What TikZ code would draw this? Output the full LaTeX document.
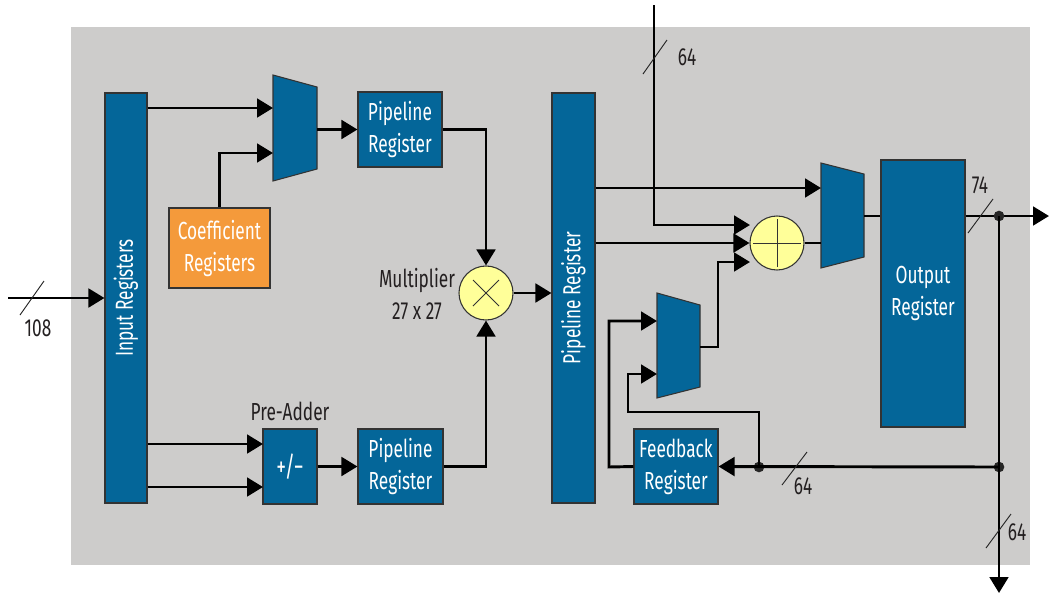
\documentclass[tikz,border=0pt]{standalone}
\usepackage{fontspec}
\setmainfont{Fira Sans}[FakeStretch=0.70]
\usetikzlibrary{arrows.meta}
\definecolor{bg}{HTML}{CDCCCB}
\definecolor{blu}{HTML}{046699}
\definecolor{org}{HTML}{F49A3B}
\definecolor{ylw}{HTML}{FFFF99}
\definecolor{txt}{HTML}{231F20}
\newcommand{\bfnt}{\fontsize{18.5}{24}\selectfont}
\tikzset{
  blk/.style={draw=black!80, line width=0.8pt, fill=blu, text=white, inner sep=0pt, font=\bfnt, align=center},
  coefbox/.style={blk, fill=org},
  opcirc/.style={circle, draw=black!80, line width=0.8pt, fill=ylw, inner sep=0pt, minimum size=40.5pt},
  muxst/.style={draw=black!80, line width=0.8pt, fill=blu},
  wire/.style={line width=2.2pt, black},
  arr/.style={wire, -{Triangle[length=12pt,width=14pt]}},
  slashmk/.style={line width=0.7pt, black!85},
  lbl/.style={text=txt, font=\bfnt, inner sep=0pt, align=center},
  jdot/.style={circle, fill=black!85, inner sep=0pt, minimum size=8pt}
}
\begin{document}
\begin{tikzpicture}[x=0.75pt,y=-0.75pt]
\useasboundingbox (0,0) rectangle (1050,594);
\fill[bg] (71,27) rectangle (1030,565);

% blocks
\node[blk, minimum width=31.5pt, minimum height=307.5pt] (inreg) at (126,298) {};
\node[text=white, font=\bfnt, rotate=90] (inregt) at (126,298) {Input Registers};
\node[blk, minimum width=63pt, minimum height=56.25pt] (pr1) at (400,129.5) {Pipeline\\Register};
\node[coefbox, minimum width=75.75pt, minimum height=60pt] (coef) at (219.5,248) {Coefficient\\Registers};
\node[blk, minimum width=40.5pt, minimum height=56.25pt, font=\fontsize{21}{24}\selectfont] (pre) at (290,466.5) {+/−};
\node[lbl] (prel) at (290,411) {Pre-Adder};
\node[blk, minimum width=63.75pt, minimum height=56.25pt] (pr3) at (400.5,466.5) {Pipeline\\Register};
\node[opcirc] (mult) at (486,293) {};
\draw[black!80, line width=0.7pt] ([shift={(-13,-13)}]mult.center) -- ([shift={(13,13)}]mult.center)
  ([shift={(-13,13)}]mult.center) -- ([shift={(13,-13)}]mult.center);
\node[lbl] (multl) at (417,294) {Multiplier\\27 x 27};
\node[blk, minimum width=32.25pt, minimum height=307.5pt] (pr2) at (573.5,298) {};
\node[text=white, font=\bfnt, rotate=90] (pr2t) at (573.5,298) {Pipeline Register};
\node[opcirc] (adder) at (777,243) {};
\draw[black!80, line width=0.7pt] ([xshift=-18]adder.center) -- ([xshift=18]adder.center)
  ([yshift=-18]adder.center) -- ([yshift=18]adder.center);
\node[blk, minimum width=63pt, minimum height=200.25pt] (out) at (923,293.5) {Output\\Register};
\node[blk, minimum width=63pt, minimum height=56.25pt] (fb) at (676,466.5) {Feedback\\Register};

% muxes
\draw[muxst] (273,75) -- (317,87) -- (317,169) -- (273,181) -- cycle;
\coordinate (m1a) at (273,108);
\coordinate (m1b) at (273,153);
\coordinate (m1o) at (317,129.5);
\draw[muxst] (821,163) -- (864,174) -- (864,257) -- (821,268) -- cycle;
\coordinate (m2a) at (821,188);
\coordinate (m2b) at (821,243);
\coordinate (m2o) at (864,216);
\draw[muxst] (657,293) -- (700,305) -- (700,387) -- (657,398) -- cycle;
\coordinate (m3a) at (657,321);
\coordinate (m3b) at (657,374);
\coordinate (m3o) at (700,347);

% free ends and junctions
\coordinate (inS) at (8,298);
\coordinate (topS) at (654,5);
\coordinate (outR) at (1049,216);
\coordinate (botE) at (999,593);
\coordinate (ad1) at (750,225);
\coordinate (ad3) at (750,262);
\coordinate (pa1) at (263,444);
\coordinate (pa2) at (263,487);

% connectors
\draw[arr] (inS) -- (inreg.west);
\draw[arr] (inreg.east |- m1a) -- (m1a);
\draw[arr] (coef.north) |- (m1b);
\draw[arr] (m1o) -- (pr1.west);
\draw[arr] (pr1.east) -| (mult.north);
\draw[arr] (inreg.east |- pa1) -- (pa1);
\draw[arr] (inreg.east |- pa2) -- (pa2);
\draw[arr] (pre.east) -- (pr3.west);
\draw[arr] (pr3.east) -| (mult.south);
\draw[arr] (mult.east) -- (mult.east -| pr2.west);
\draw[arr] (pr2.east |- m2a) -- (m2a);
\draw[arr] (topS) |- (ad1);
\draw[arr] (pr2.east |- adder.west) -- (adder.west);
\draw[arr] (m3o) -| (718,262) -- (ad3);
\draw[wire] (adder.east) -- (m2b);
\draw[wire] (m2o) -- (m2o -| out.west);
\draw[arr] (out.east |- m2o) -- (outR);
\node[jdot] (j1) at (999,216) {};
\node[jdot] (j2) at (999,467) {};
\node[jdot] (j3) at (759,467) {};
\draw[arr] (j1.center) -- (botE);
\draw[arr] (j2.center) -- (fb.east);
\draw[arr] (j3.center) -- (759,412) -- (628,412) -- (628,374) -- (m3b);
\draw[arr] (fb.west) -- (609,467) -- (609,321) -- (m3a);

% bus width marks
\draw[slashmk] (20,315) -- (44,281);
\node[lbl] (l108) at (38,328) {108};
\draw[slashmk] (643,74) -- (667,40);
\node[lbl] (l64a) at (687,57) {64};
\draw[slashmk] (968,233) -- (993,199);
\node[lbl] (l74) at (980,185) {74};
\draw[slashmk] (782,485) -- (807,452);
\node[lbl] (l64b) at (803,486) {64};
\draw[slashmk] (986,548) -- (1011,514);
\node[lbl] (l64c) at (1017,532) {64};
\end{tikzpicture}
\end{document}
